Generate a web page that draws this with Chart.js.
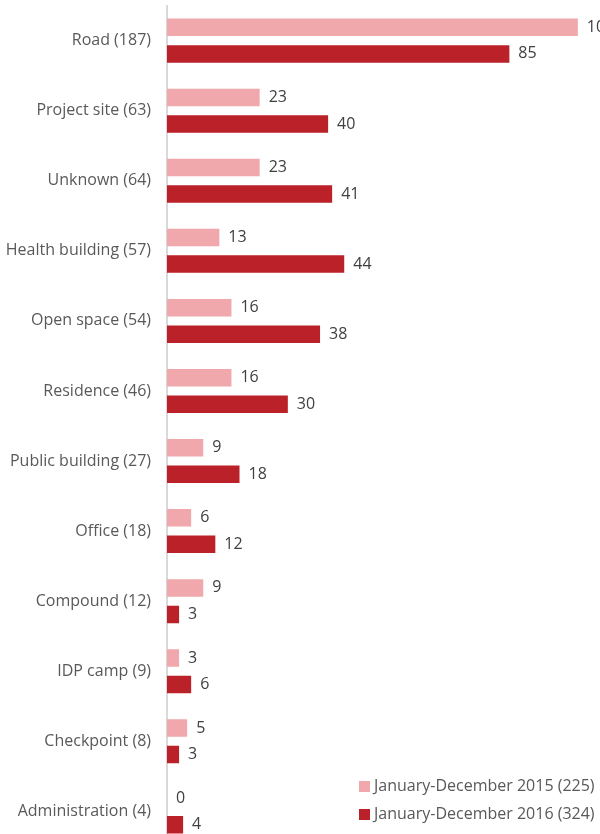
<!DOCTYPE html>
<html>
<head>
<meta charset="utf-8">
<script src="https://cdn.jsdelivr.net/npm/chart.js@4.4.1/dist/chart.umd.min.js"></script>
<style>
  html, body { margin: 0; padding: 0; background: #fff; overflow: hidden; }
  #wrap { position: relative; width: 600px; height: 834px; overflow: hidden; }
  #chart { position: absolute; left: 0; top: -20px; }
  .legend { position: absolute; left: 359px; font: 16px "Open Sans", sans-serif; color: #595959; white-space: nowrap; }
  .legend span { display: inline-block; width: 11px; height: 11px; margin-right: 4px; vertical-align: -1px; }
</style>
</head>
<body>
<div id="wrap">
  <canvas id="chart" width="600" height="892"></canvas>
  <div class="legend" style="top:774px"><span style="background:#F0A8AC"></span>January-December 2015 (225)</div>
  <div class="legend" style="top:802px"><span style="background:#BA2129"></span>January-December 2016 (324)</div>
</div>
<script>
(() => {
  'use strict';

  // datos
  const categories = ['Road (187)', 'Project site (63)', 'Unknown (64)', 'Health building (57)',
    'Open space (54)', 'Residence (46)', 'Public building (27)', 'Office (18)',
    'Compound (12)', 'IDP camp (9)', 'Checkpoint (8)', 'Administration (4)'];
  const vals2015 = [102, 23, 23, 13, 16, 16, 9, 6, 9, 3, 5, 0];
  const vals2016 = [85, 40, 41, 44, 38, 30, 18, 12, 3, 6, 3, 4];

  // etiquetas de valor al final de cada barra
  const valueLabels = {
    id: 'valueLabels',
    afterDatasetsDraw(chart){
      const ctx = chart.ctx;
      ctx.save();
      ctx.font = '16px "Open Sans", sans-serif';
      ctx.fillStyle = '#404040';
      ctx.textBaseline = 'middle';
      chart.data.datasets.forEach((ds, i)=>{
        chart.getDatasetMeta(i).data.forEach((bar, j)=>{
          ctx.fillText(String(ds.data[j]), bar.x + 9, bar.y);
        });
      });
      ctx.restore();
    }
  };

  new Chart(document.getElementById('chart').getContext('2d'), {
    type: 'bar',
    data: {
      labels: categories,
      datasets: [
        { label: 'January-December 2015 (225)', data: vals2015, backgroundColor: '#F0A8AC',
          categoryPercentage: 0.757, barPercentage: 0.66 },
        { label: 'January-December 2016 (324)', data: vals2016, backgroundColor: '#BA2129',
          categoryPercentage: 0.757, barPercentage: 0.66 }
      ]
    },
    options: {
      indexAxis: 'y',
      responsive: false,
      animation: false,
      layout: { padding: { top: 5, bottom: 5, left: 0, right: 0 } },
      plugins: { legend: { display: false }, tooltip: { enabled: false } },
      scales: {
        x: { display: false, min: 0, max: 107.5 },
        y: {
          grid: { display: false, drawTicks: false },
          border: { display: true, color: '#D9D9D9', width: 2 },
          ticks: { color: '#595959', font: { family: 'Open Sans', size: 16 }, padding: 16 },
          afterFit: (s)=>{ s.width = 167; }
        }
      }
    },
    plugins: [valueLabels]
  });
})();
</script>
</body>
</html>
